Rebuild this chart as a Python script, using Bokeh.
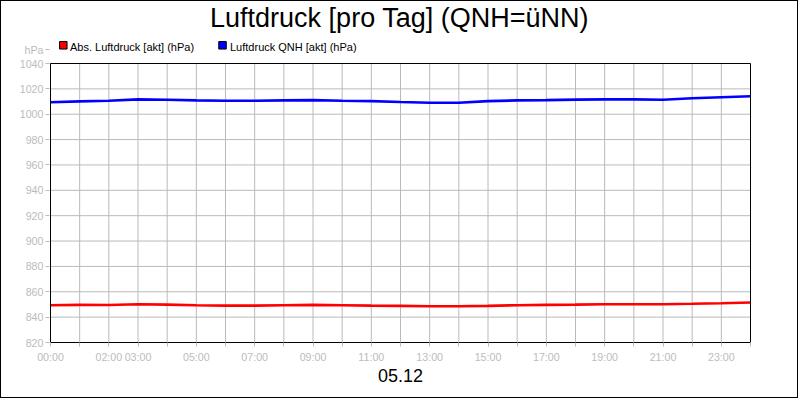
from bokeh.plotting import figure
from bokeh.models import Range1d, FixedTicker, Label
from bokeh.embed import file_html
from bokeh.resources import INLINE

# ---- data ----
title_text = "Luftdruck [pro Tag] (QNH=üNN)"
date_label = "05.12"
unit_label = "hPa"
series_names = ["Abs. Luftdruck [akt] (hPa)", "Luftdruck QNH [akt] (hPa)"]
series_colors = ["#ff0000", "#0000ff"]

hours = list(range(25))
abs_druck = [849.4, 849.7, 849.6, 850.2, 849.9, 849.4, 849.1, 849.1, 849.4, 849.7,
             849.4, 849.1, 848.9, 848.6, 848.6, 848.9, 849.4, 849.7, 849.9, 850.2,
             850.2, 850.2, 850.5, 851.0, 851.6]
qnh_druck = [1009.5, 1010.1, 1010.6, 1011.7, 1011.4, 1010.9, 1010.6, 1010.6, 1010.9, 1011.1,
             1010.6, 1010.3, 1009.6, 1009.0, 1009.0, 1010.3, 1010.9, 1011.1, 1011.5, 1011.7,
             1011.7, 1011.4, 1012.6, 1013.4, 1014.2]

y_ticks = list(range(820, 1041, 20))
x_ticks = list(range(0, 25))
x_tick_labels = {0: "00:00", 2: "02:00", 3: "03:00", 5: "05:00", 7: "07:00", 9: "09:00",
                 11: "11:00", 13: "13:00", 15: "15:00", 17: "17:00", 19: "19:00",
                 21: "21:00", 23: "23:00"}

# ---- layout constants (picture pixels of the plot box) ----
BOX_L, BOX_R, BOX_T, BOX_B = 50, 750, 63, 342
X0, X1, Y0, Y1 = 0, 24, 820, 1040
OFF = 1          # css border width
W, H = 798, 398  # canvas size inside the css border

def xd(px):
    return X0 + (px - BOX_L) * (X1 - X0) / (BOX_R - BOX_L)

def yd(py):
    return Y0 + (BOX_B - py) * (Y1 - Y0) / (BOX_B - BOX_T)

FONT = "Liberation Sans"
GRAY = "#bcbcbc"
GRID = "#bababa"

# frame spans picture x 49..751 and y 1..342 so that title and legend lie inside it
FR_L, FR_R, FR_T = BOX_L - 1, BOX_R + 1, OFF
p = figure(width=W, height=H, output_backend="svg", toolbar_location=None,
           x_range=Range1d(xd(FR_L), xd(FR_R)), y_range=Range1d(Y0, yd(FR_T)),
           min_border_left=FR_L - OFF, min_border_right=W - (FR_R - OFF),
           min_border_top=0, min_border_bottom=H - (BOX_B - OFF))
p.title = None
p.styles = {"border": "1px solid black"}
p.background_fill_color = "white"
p.border_fill_color = "white"
p.outline_line_color = None
p.xgrid.visible = False
p.ygrid.visible = False

# axes
unit_tick = 1051
p.xaxis.ticker = FixedTicker(ticks=x_ticks)
p.xaxis.bounds = (X0, X1)
p.xaxis.major_label_overrides = {h: x_tick_labels.get(h, "") for h in x_ticks}
p.yaxis.ticker = FixedTicker(ticks=y_ticks + [unit_tick])
p.yaxis.major_label_overrides = {unit_tick: unit_label}
for ax in (p.xaxis[0], p.yaxis[0]):
    ax.major_tick_line_color = GRAY
    ax.major_tick_in = 0
    ax.major_tick_out = 4
    ax.minor_tick_line_color = None
    ax.major_label_text_color = GRAY
    ax.major_label_text_font = FONT
    ax.major_label_text_font_size = "10.7px"
p.xaxis.axis_line_color = "black"
p.yaxis.axis_line_color = None
p.xaxis.major_label_standoff = 4
p.yaxis.major_label_standoff = 2
p.xaxis.axis_label = date_label
p.xaxis.axis_label_text_font = FONT
p.xaxis.axis_label_text_font_size = "18px"
p.xaxis.axis_label_text_font_style = "normal"
p.xaxis.axis_label_text_color = "black"
p.xaxis.axis_label_standoff = 3

# grid lines limited to the plot box
p.segment(x0=x_ticks, x1=x_ticks, y0=[Y0] * len(x_ticks), y1=[Y1] * len(x_ticks),
          line_color=GRID, line_width=1)
p.segment(x0=[X0] * len(y_ticks), x1=[X1] * len(y_ticks), y0=y_ticks, y1=y_ticks,
          line_color=GRID, line_width=1)

# series
p.line(hours, abs_druck, line_color=series_colors[0], line_width=2.6)
p.line(hours, qnh_druck, line_color=series_colors[1], line_width=2.6)

# plot box
p.quad(left=[X0], right=[X1], bottom=[Y0], top=[Y1], fill_color=None,
       line_color="black", line_width=1)

# title
p.add_layout(Label(x=xd(399), y=yd(17), text=title_text, text_align="center",
                   text_baseline="alphabetic", text_font=FONT, text_font_size="27px",
                   text_color="black"))
# legend
leg_sq_x = [62.8, 222.0]
leg_txt_x = [69.5, 229.5]
p.scatter(x=[xd(v) for v in leg_sq_x], y=[yd(44.8)] * 2, marker="square", size=7.5,
          fill_color=series_colors, line_color="black", line_width=1)
for i in range(2):
    p.add_layout(Label(x=xd(leg_txt_x[i]), y=yd(46.3), text=series_names[i], text_align="left",
                       text_baseline="alphabetic", text_font=FONT, text_font_size="11px",
                       text_color="black"))

open("out.html", "w").write(file_html(p, INLINE))
